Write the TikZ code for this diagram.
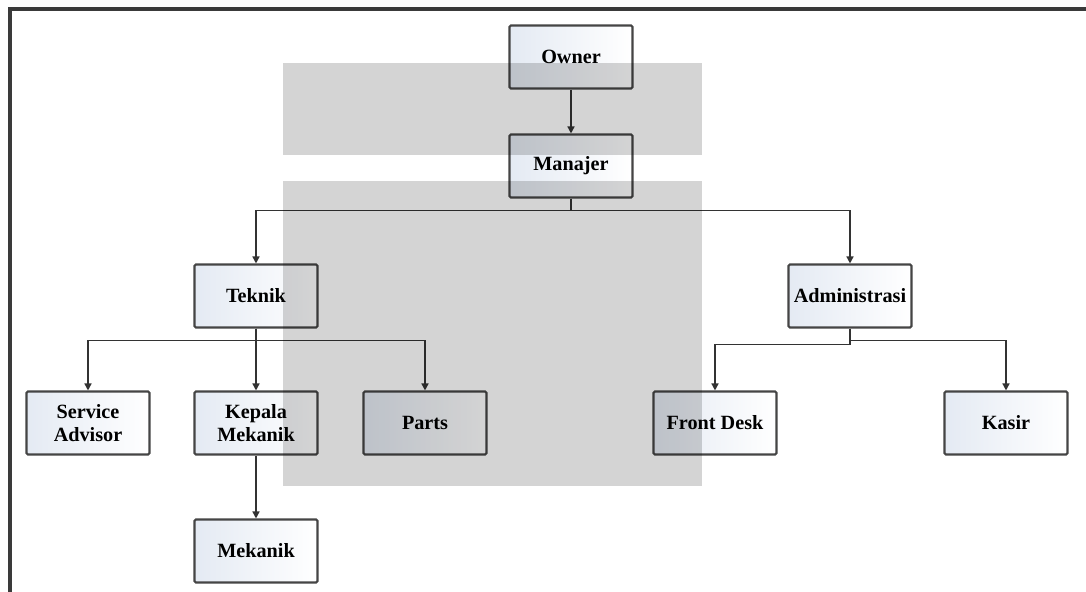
\documentclass[tikz,border=0pt]{standalone}
\usepackage{fontspec}
\setmainfont{Liberation Serif}
\usetikzlibrary{arrows.meta}
\definecolor{boxline}{HTML}{454545}
\definecolor{boxfill}{HTML}{E4EAF3}
\definecolor{frameline}{HTML}{3A3A3A}
\begin{document}
\begin{tikzpicture}[x=0.02cm,y=-0.02cm,
  orgbox/.style={draw=boxline,line width=1.2pt,rounded corners=0.8pt,
    minimum width=2.46cm,minimum height=1.26cm,inner sep=0pt,align=center,
    left color=boxfill,right color=white,
    font=\fontsize{11.5}{13}\selectfont\bfseries},
  link/.style={draw=black!80,line width=0.85pt},
  arr/.style={link,-{Triangle[width=4pt,length=4pt]}},
  veil/.style={fill=black,fill opacity=0.17,draw=none}]
\useasboundingbox (0,0) rectangle (1086,592);
\fill[white] (0,0) rectangle (1086,592);
\draw[frameline,line width=2.3pt] (10,592) -- (10,9) -- (1086,9);

\node[orgbox] (owner) at (571,57) {Owner};
\node[orgbox] (man) at (571,166) {Manajer};
\node[orgbox] (tek) at (256,296) {Teknik};
\node[orgbox] (adm) at (850,296) {Administrasi};
\node[orgbox] (sa) at (88,423) {Service\\Advisor};
\node[orgbox] (kep) at (256,423) {Kepala\\Mekanik};
\node[orgbox] (parts) at (425,423) {Parts};
\node[orgbox] (fd) at (715,423) {Front Desk};
\node[orgbox] (kasir) at (1006,423) {Kasir};
\node[orgbox] (mek) at (256,551) {Mekanik};

\draw[arr] (owner) -- (man);
\draw[arr] (man.south) -- ++(0,12) -| (tek.north);
\draw[arr] (man.south) -- ++(0,12) -| (adm.north);
\draw[arr] (tek.south) -- ++(0,12) -| (sa.north);
\draw[arr] (tek) -- (kep);
\draw[arr] (tek.south) -- ++(0,12) -| (parts.north);
\draw[arr] (adm.south) -- ++(0,16) -| (fd.north);
\draw[arr] (adm.south) -- ++(0,12) -| (kasir.north);
\draw[arr] (kep) -- (mek);

\fill[veil] (283,63) rectangle (702,155);
\fill[veil] (283,181) rectangle (702,486);
\end{tikzpicture}
\end{document}
